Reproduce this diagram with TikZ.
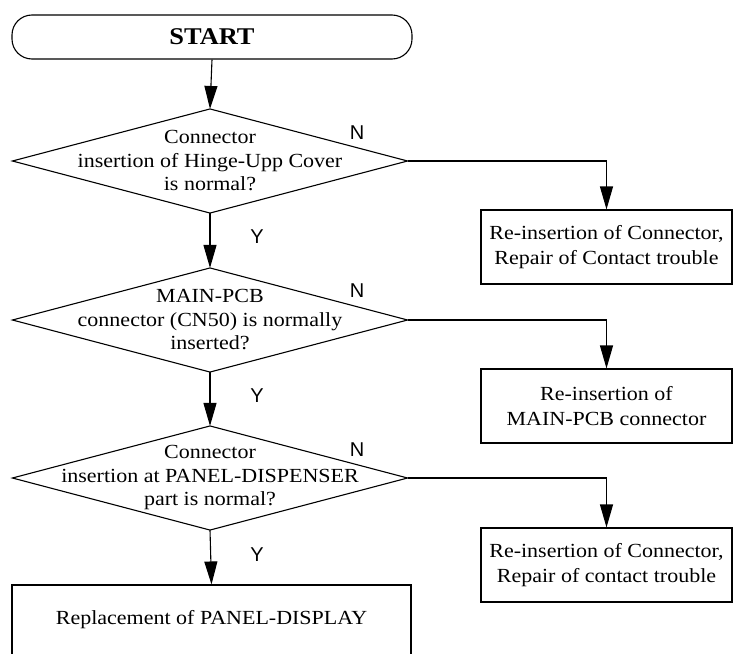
\documentclass[tikz,border=0pt]{standalone}
\usepackage{fontspec}
\setmainfont{Liberation Serif}[FakeStretch=1.1]
\newfontfamily\ynfont{Liberation Sans}
\usetikzlibrary{arrows.meta,positioning}

\begin{document}
\begin{tikzpicture}[x=1pt, y=-1pt, >={Triangle[length=23pt, width=13pt]}, line width=1.1pt,
    startbox/.style={draw, rounded corners=20pt, minimum width=400pt, minimum height=44pt,
        font=\fontsize{24}{26}\selectfont\bfseries},
    query/.style={align=center, inner sep=0pt, minimum width=394pt, minimum height=103pt,
        font=\fontsize{20}{23.5}\selectfont},
    fixbox/.style={draw, align=center, minimum width=251pt, minimum height=74pt,
        font=\fontsize{20}{25}\selectfont},
    yn/.style={inner sep=0pt, font=\ynfont\fontsize{20}{22}\selectfont}]
    \useasboundingbox (0,0) rectangle (733,653);
    \clip (0,0) rectangle (733,653);

    % 开始
    \node[startbox] (start) at (212,37) {START};

    % 三个判断框
    \node[query] (q1) at (210,161) {Connector\\insertion of Hinge-Upp Cover\\is normal?};
    \node[query] (q2) at (210,320) {MAIN-PCB\\connector (CN50) is normally\\inserted?};
    \node[query] (q3) at (210,478) {Connector\\insertion at PANEL-DISPENSER\\part is normal?};
    \foreach \q in {q1,q2,q3} {
        \draw (\q.west) -- (\q.north) -- (\q.east) -- (\q.south) -- cycle;
    }

    % 处理框
    \node[fixbox] (fix1) at (606.5,247) {Re-insertion of Connector,\\Repair of Contact trouble};
    \node[fixbox] (fix2) at (606.5,406) {Re-insertion of\\MAIN-PCB connector};
    \node[fixbox] (fix3) at (606.5,565) {Re-insertion of Connector,\\Repair of contact trouble};
    \node[fixbox, minimum width=399pt, minimum height=70pt] (done) at (211.5,620) {Replacement of PANEL-DISPLAY};

    % Y 分支
    \draw[->] (start.south) -- (q1.north);
    \draw[->] (q1.south) -- (q2.north);
    \draw[->] (q2.south) -- (q3.north);
    \draw[->] (q3.south) -- (done.north);

    % N 分支
    \draw[->] (q1.east) -| (fix1.north);
    \draw[->] (q2.east) -| (fix2.north);
    \draw[->] (q3.east) -| (fix3.north);

    % 标签
    \node[yn] (n1) at (357,133) {N};
    \node[yn] (n2) at (357,291) {N};
    \node[yn] (n3) at (357,450) {N};
    \node[yn] (y1) at (257,237) {Y};
    \node[yn] (y2) at (257,396) {Y};
    \node[yn] (y3) at (257,555) {Y};
\end{tikzpicture}
\end{document}
